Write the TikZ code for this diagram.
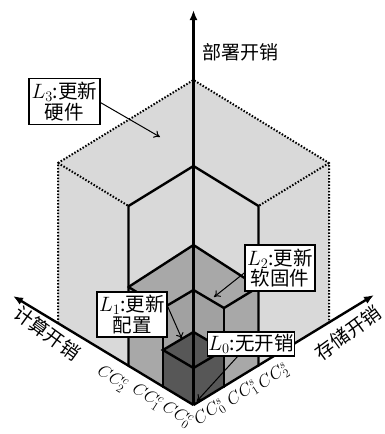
\documentclass[tikz,border=0pt]{standalone}
\usepackage{fontspec}
\newfontfamily\cjk{Noto Sans CJK SC}
\usetikzlibrary{arrows.meta}
\definecolor{gLthree}{gray}{0.85}
\definecolor{gLtwo}{gray}{0.66}
\definecolor{gLone}{gray}{0.63}
\definecolor{gLzero}{gray}{0.34}
\begin{document}
\begin{tikzpicture}[x=1pt,y=-1pt,
  solid edge/.style={line width=2.4pt, line join=miter, line cap=round},
  dot edge/.style={line width=2pt, dash pattern=on 1.5pt off 1.7pt},
  lab/.style={draw, line width=1.7pt, fill=white, align=center, inner sep=1pt,
    font=\cjk\fontsize{19.5}{20.5}\selectfont},
  ptr/.style={-{To[length=6pt,width=8pt]}, line width=1pt},
  axis/.style={line width=2.4pt, -{Latex[length=10pt,width=8pt]}},
  axlab/.style={font=\cjk\fontsize{19}{19}\selectfont, inner sep=0pt},
  cclab/.style={font=\fontsize{17}{17}\selectfont, inner sep=0pt}
]
\useasboundingbox (0,0) rectangle (385,434);
% key points (pixel coordinates, y downwards)
\coordinate (O) at (193.5,405);
\coordinate (L) at (58,323);   \coordinate (LT) at (58,163);
\coordinate (T) at (193.5,80);
\coordinate (RT) at (329,163); \coordinate (R) at (329,323);
\coordinate (DL) at (128.5,366); \coordinate (DLT) at (128.5,206);
\coordinate (DT) at (193.5,166);
\coordinate (DRT) at (258.5,206); \coordinate (DR) at (258.5,366);
\coordinate (CLT) at (128.5,287); \coordinate (CT) at (193.5,245); \coordinate (CRT) at (258.5,287);
\coordinate (BL) at (163,387); \coordinate (BLT) at (163,308);
\coordinate (BT) at (193.5,290);
\coordinate (BRT) at (224,308); \coordinate (BR) at (224,387);
\coordinate (ALT) at (163,350); \coordinate (AT) at (193.5,332);
\coordinate (ART) at (224,350); \coordinate (AC) at (193.5,368);
\coordinate (Xend) at (13,296);
\coordinate (Yend) at (374,295);
\coordinate (Zend) at (193.5,10);
% fills
\fill[gLthree] (O) -- (L) -- (LT) -- (T) -- (RT) -- (R) -- cycle;
\fill[gLtwo] (O) -- (DL) -- (CLT) -- (CT) -- (CRT) -- (DR) -- cycle;
\fill[gLone] (O) -- (BL) -- (BLT) -- (BT) -- (BRT) -- (BR) -- cycle;
\fill[gLzero] (O) -- (BL) -- (ALT) -- (AT) -- (ART) -- (BR) -- cycle;
% dotted outline of L3
\draw[dot edge] (L) -- (LT) -- (T) -- (RT) -- (R);
\draw[dot edge] (LT) -- (DLT);
\draw[dot edge] (RT) -- (DRT);
% solid edges
\draw[solid edge] (DL) -- (DLT) -- (DT) -- (DRT) -- (DR);
\draw[solid edge] (CLT) -- (CT) -- (CRT);
\draw[solid edge] (CLT) -- (BLT) -- (BT) -- (BRT) -- (CRT);
\draw[solid edge] (BL) -- (BLT);
\draw[solid edge] (BR) -- (BRT);
\draw[solid edge] (ALT) -- (AT) -- (ART) -- (AC) -- cycle;
% axes
\draw[axis] (O) -- (Zend);
\draw[axis] (O) -- (Xend);
\draw[axis] (O) -- (Yend);
% axis labels
\node[axlab] (zl) at (240,52) {部署开销};
\node[axlab, rotate=-36] (xl) at (47,333) {计算开销};
\node[axlab, rotate=36] (yl) at (348,333) {存储开销};
% tick labels
\node[cclab, rotate=-33] (c2) at (112,379) {$CC_2^c$};
\node[cclab, rotate=-33] (c1) at (147,397) {$CC_1^c$};
\node[cclab, rotate=-33] (c0) at (177,415) {$CC_0^c$};
\node[cclab, rotate=33] (s0) at (210,413) {$CC_0^s$};
\node[cclab, rotate=33] (s1) at (243,394) {$CC_1^s$};
\node[cclab, rotate=33] (s2) at (274,377) {$CC_2^s$};
% labelled boxes
\node[lab, minimum width=71pt, minimum height=46pt] (l3) at (64.5,101.5) {$L_3$:更新\\硬件};
\node[lab, minimum width=70pt, minimum height=46pt] (l2) at (280,268) {$L_2$:更新\\软固件};
\node[lab, minimum width=70pt, minimum height=45pt] (l1) at (132,314.5) {$L_1$:更新\\配置};
\node[lab, minimum width=80pt, minimum height=24pt] (l0) at (251,344) {$L_0$:无开销};
\coordinate (p3) at (160,137);
\coordinate (p2) at (214,297);
\coordinate (p1) at (182,339);
\coordinate (p0) at (197,401);
\draw[ptr] (l3.358) -- (p3);
\draw[ptr] (l2.188) -- (p2);
\draw[ptr] (l1.12) -- (p1);
\draw[ptr] (l0.223) -- (p0);
\end{tikzpicture}
\end{document}
